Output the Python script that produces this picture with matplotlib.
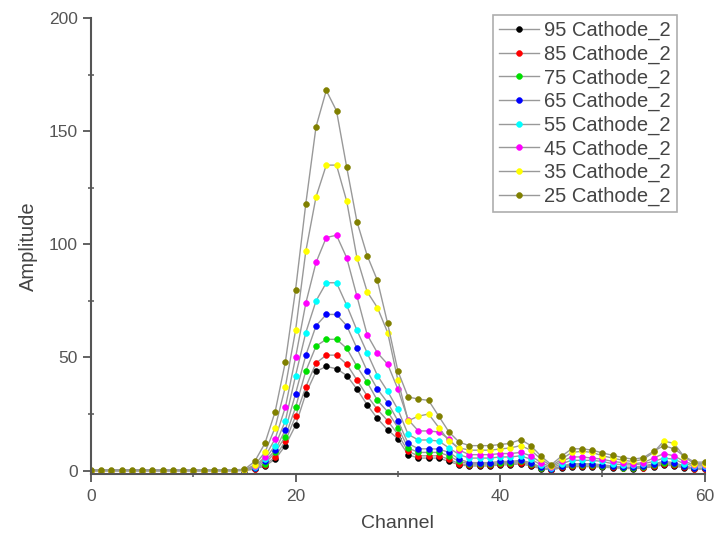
import matplotlib
matplotlib.use("Agg")
import matplotlib.pyplot as plt
from matplotlib.ticker import MultipleLocator

plt.rcParams['font.family'] = ['Liberation Sans', 'DejaVu Sans']

channels = list(range(61))

labels = ["95 Cathode_2", "85 Cathode_2", "75 Cathode_2", "65 Cathode_2",
          "55 Cathode_2", "45 Cathode_2", "35 Cathode_2", "25 Cathode_2"]
colors = ["#000000", "#ff0000", "#00e000", "#0000ff",
          "#00ffff", "#ff00ff", "#ffff00", "#808000"]

s95 = [0, 0, 0, 0, 0, 0, 0, 0, 0, 0, 0, 0, 0, 0, 0,
       0, 0.6, 2, 5, 11, 20, 34, 43.8, 46, 45, 42, 36, 29, 23, 18, 14,
       7, 5.5, 5.5, 5.5, 4, 2.5, 2, 2, 2, 2.5, 2.5, 3, 2, 0.8, 0.3,
       1.2, 1.7, 1.7, 1.7, 1.5, 1.2, 1, 0.8, 1.1, 1.7, 2.5, 2, 1.2, 0.6, 0.6]
s85 = [0, 0, 0, 0, 0, 0, 0, 0, 0, 0, 0, 0, 0, 0, 0,
       0.1, 0.8, 2.5, 6, 13, 24, 37, 47.5, 51, 51, 47, 40, 33, 27, 22, 16,
       8.5, 6.5, 6.5, 6.5, 5, 3, 2.5, 2.5, 2.5, 3, 3, 3.5, 2.5, 1, 0.4,
       1.5, 2, 2, 2, 1.8, 1.5, 1.2, 1, 1.3, 2, 3, 2.5, 1.5, 0.8, 0.8]
s75 = [0, 0, 0, 0, 0, 0, 0, 0, 0, 0, 0, 0, 0, 0, 0,
       0.1, 1, 3, 8, 15, 28, 44, 55, 58, 58, 54, 46, 39, 31, 26, 19,
       10, 8, 8, 8, 6.5, 4, 3, 3, 3, 3.5, 3.5, 4, 3, 1.2, 0.5,
       1.8, 2.5, 2.5, 2.5, 2, 1.8, 1.3, 1.2, 1.6, 2.5, 3.5, 3, 1.8, 1, 1]
s65 = [0, 0, 0, 0, 0, 0, 0, 0, 0, 0, 0, 0, 0, 0, 0,
       0.1, 1.2, 4, 9, 18, 34, 51, 64, 69, 69, 64, 54, 44, 36, 30, 22,
       12, 9.6, 9.6, 9.5, 8, 5, 3.5, 3.5, 3.5, 4, 4, 4.5, 3.5, 1.5, 0.5,
       2, 3, 3, 3, 2.5, 2, 1.5, 1.5, 2, 3, 4, 3.5, 2, 1, 1]
s55 = [0, 0, 0, 0, 0, 0, 0, 0, 0, 0, 0, 0, 0, 0, 0,
       0.2, 1.5, 5, 11, 22, 42, 61, 75, 83, 83, 73, 62, 52, 42, 35, 27,
       16, 13.5, 13.5, 13, 10, 7, 5.5, 5.5, 5.5, 6, 6, 6.5, 5, 2.5, 1,
       3, 4.5, 4.5, 4.5, 4, 3, 2.5, 2.5, 3, 4, 5.5, 5, 3, 2, 2]
s45 = [0, 0, 0, 0, 0, 0, 0, 0, 0, 0, 0, 0, 0, 0, 0,
       0.2, 1.8, 6, 14, 28, 50, 74, 92, 103, 104, 94, 77, 60, 52, 47, 36,
       22.5, 17.5, 17.5, 17, 14, 9, 7, 7, 7, 7.5, 7.5, 8, 6.5, 3.5, 1.5,
       4, 6, 6, 5.5, 5, 4, 3.5, 3, 3.5, 5.5, 7.5, 6.5, 4, 2.5, 2.5]
s35 = [0, 0, 0, 0, 0, 0, 0, 0, 0, 0, 0, 0, 0, 0, 0,
       0.3, 2.5, 8, 19, 37, 62, 97, 121, 135, 135, 119, 94, 79, 72, 61, 40,
       22, 24, 25, 19, 13, 10, 9, 9, 9, 9.5, 10, 11, 9, 5, 2,
       5, 8, 8.5, 8, 6.5, 5.5, 4.5, 4, 5, 8, 13, 12, 6, 3, 3]
s25 = [0.3, 0.3, 0.3, 0.3, 0.3, 0.3, 0.3, 0.3, 0.3, 0.3, 0.3, 0.3, 0.3, 0.3, 0.3,
       0.5, 4, 12, 26, 48, 80, 118, 152, 168, 159, 134, 110, 95, 84, 65, 44,
       32.5, 31.6, 31, 24, 17, 12.5, 11, 11, 11, 11.5, 12, 13.7, 11, 6.3, 2.6,
       6.3, 9.6, 9.6, 9, 7.8, 6.7, 5.7, 5, 5.7, 8.5, 11, 9.6, 6.3, 3.7, 3.7]

series = [s95, s85, s75, s65, s55, s45, s35, s25]

fig = plt.figure(figsize=(7.14, 5.41), dpi=100)
ax = fig.add_axes([0.1275, 0.124, 0.8595, 0.8426])

for vals, lab, col in zip(series, labels, colors):
    ax.plot(channels, vals, '-', color='#999999', lw=1.0,
            marker='o', ms=4.2, mfc=col, mec=col, mew=0.4, label=lab)

ax.set_xlim(0, 60)
ax.set_ylim(-1.5, 200)
ax.xaxis.set_major_locator(MultipleLocator(20))
ax.xaxis.set_minor_locator(MultipleLocator(10))
ax.yaxis.set_major_locator(MultipleLocator(50))
ax.yaxis.set_minor_locator(MultipleLocator(25))

axc = '#555555'
for side in ['top', 'right']:
    ax.spines[side].set_visible(False)
for side in ['left', 'bottom']:
    ax.spines[side].set_color(axc)
    ax.spines[side].set_linewidth(1.5)
ax.tick_params(which='major', direction='out', length=6, width=1.3,
               colors=axc, labelsize=12.5)
ax.tick_params(which='minor', direction='inout', length=5, width=1.1, colors=axc)
ax.tick_params(axis='x', pad=5)

ax.set_xlabel("Channel", fontsize=14, color='#444444', labelpad=8)
ax.set_ylabel("Amplitude", fontsize=14.5, color='#444444', labelpad=8)

leg = ax.legend(loc='upper right', bbox_to_anchor=(0.955, 1.007), borderaxespad=0,
                fontsize=14.5, frameon=True, fancybox=False, handlelength=2.0,
                handletextpad=0.25, labelspacing=0.22, borderpad=0.3,
                markerscale=1.0)
leg.get_frame().set_edgecolor('#999999')
leg.get_frame().set_linewidth(1.2)
for t in leg.get_texts():
    t.set_color('#444444')

fig.savefig("out.png", dpi=100)
